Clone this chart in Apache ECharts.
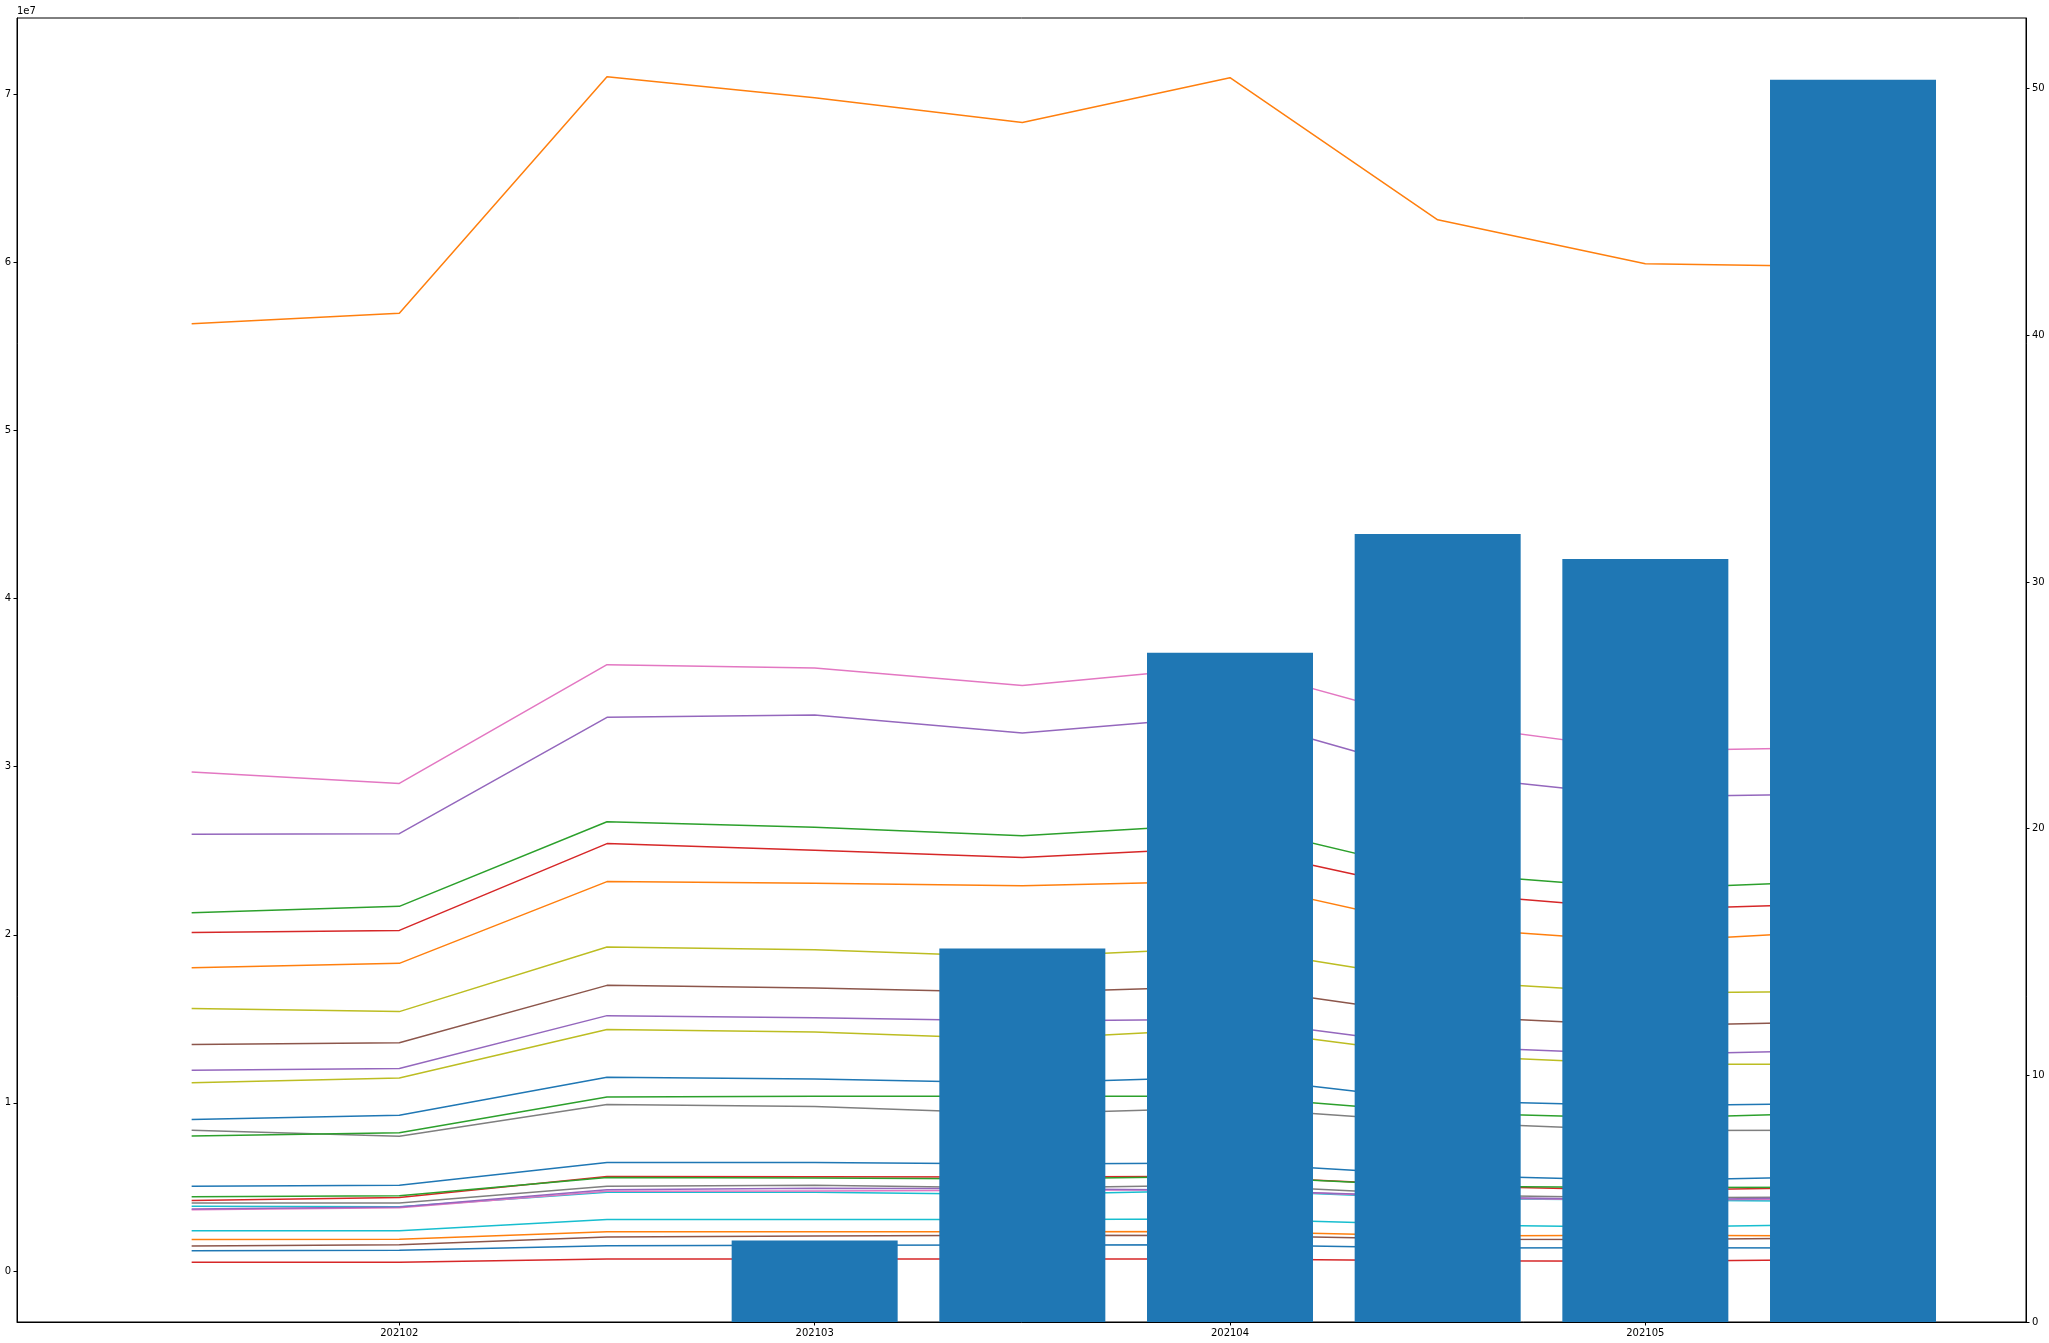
<!DOCTYPE html>
<html><head><meta charset="utf-8">
<script src="https://cdn.jsdelivr.net/npm/echarts@6/dist/echarts.min.js"></script>
<style>html,body{margin:0;padding:0;background:#fff}#c{width:2049px;height:1343px}</style>
</head><body><div id="c"></div>
<script>
// tick labels
const xTickPositions = [1, 3, 5, 7];
const xTickLabels = ['202102', '202103', '202104', '202105'];
const leftTicks = [0, 1e7, 2e7, 3e7, 4e7, 5e7, 6e7, 7e7];
const rightTicks = [0, 10, 20, 30, 40, 50];

// bar series (right axis), one value per period (null = no bar)
const barValues = [null, null, null, 3.30, 15.14, 27.13, 31.94, 30.93, 50.36];

// line series (left axis), 9 periods each
const lineBlue1   = [0.902e7, 0.926e7, 1.152e7, 1.142e7, 1.119e7, 1.156e7, 1.013e7, 0.983e7, 0.998e7];
const lineOrange1 = [5.634e7, 5.696e7, 7.102e7, 6.978e7, 6.830e7, 7.097e7, 6.252e7, 5.991e7, 5.973e7];
const lineGreen1  = [2.131e7, 2.169e7, 2.672e7, 2.639e7, 2.589e7, 2.662e7, 2.368e7, 2.274e7, 2.322e7];
const lineRed1    = [2.014e7, 2.026e7, 2.542e7, 2.502e7, 2.460e7, 2.520e7, 2.251e7, 2.150e7, 2.188e7];
const linePurple1 = [2.597e7, 2.601e7, 3.293e7, 3.307e7, 3.200e7, 3.302e7, 2.952e7, 2.821e7, 2.839e7];
const lineBrown1  = [1.348e7, 1.358e7, 1.699e7, 1.684e7, 1.657e7, 1.694e7, 1.518e7, 1.459e7, 1.484e7];
const linePink1   = [2.968e7, 2.900e7, 3.606e7, 3.586e7, 3.483e7, 3.599e7, 3.259e7, 3.095e7, 3.115e7];
const lineGray1   = [0.837e7, 0.801e7, 0.990e7, 0.978e7, 0.935e7, 0.971e7, 0.885e7, 0.836e7, 0.838e7];
const lineOlive1  = [1.562e7, 1.543e7, 1.927e7, 1.911e7, 1.868e7, 1.924e7, 1.727e7, 1.653e7, 1.664e7];
const lineCyan1   = [0.385e7, 0.383e7, 0.468e7, 0.468e7, 0.455e7, 0.481e7, 0.431e7, 0.422e7, 0.413e7];
const lineBlue2   = [0.504e7, 0.510e7, 0.646e7, 0.646e7, 0.636e7, 0.643e7, 0.570e7, 0.539e7, 0.564e7];
const lineOrange2 = [1.804e7, 1.830e7, 2.316e7, 2.306e7, 2.292e7, 2.319e7, 2.045e7, 1.959e7, 2.027e7];
const lineGreen2  = [0.803e7, 0.823e7, 1.035e7, 1.039e7, 1.039e7, 1.039e7, 0.942e7, 0.909e7, 0.943e7];
const lineRed2    = [0.420e7, 0.438e7, 0.563e7, 0.561e7, 0.560e7, 0.564e7, 0.508e7, 0.481e7, 0.499e7];
const linePurple2 = [1.194e7, 1.205e7, 1.519e7, 1.507e7, 1.487e7, 1.498e7, 1.337e7, 1.288e7, 1.314e7];
const lineBrown2  = [0.149e7, 0.157e7, 0.203e7, 0.209e7, 0.213e7, 0.211e7, 0.189e7, 0.188e7, 0.197e7];
const linePink2   = [0.365e7, 0.377e7, 0.474e7, 0.476e7, 0.481e7, 0.484e7, 0.436e7, 0.422e7, 0.428e7];
const lineGray2   = [0.405e7, 0.405e7, 0.504e7, 0.510e7, 0.494e7, 0.512e7, 0.453e7, 0.436e7, 0.441e7];
const lineOlive2  = [1.120e7, 1.148e7, 1.437e7, 1.422e7, 1.378e7, 1.443e7, 1.284e7, 1.230e7, 1.230e7];
const lineCyan2   = [0.240e7, 0.240e7, 0.306e7, 0.306e7, 0.306e7, 0.310e7, 0.275e7, 0.261e7, 0.279e7];
const lineBlue3   = [0.121e7, 0.123e7, 0.151e7, 0.154e7, 0.155e7, 0.157e7, 0.137e7, 0.138e7, 0.137e7];
const lineOrange3 = [0.187e7, 0.189e7, 0.233e7, 0.233e7, 0.233e7, 0.235e7, 0.209e7, 0.213e7, 0.208e7];
const lineGreen3  = [0.442e7, 0.448e7, 0.557e7, 0.554e7, 0.547e7, 0.564e7, 0.505e7, 0.497e7, 0.499e7];
const lineRed3    = [0.052e7, 0.052e7, 0.072e7, 0.072e7, 0.071e7, 0.071e7, 0.061e7, 0.059e7, 0.068e7];
const linePurple3 = [0.369e7, 0.381e7, 0.484e7, 0.492e7, 0.489e7, 0.481e7, 0.443e7, 0.422e7, 0.439e7];

const palette = ['#1f77b4','#ff7f0e','#2ca02c','#d62728','#9467bd','#8c564b','#e377c2','#7f7f7f','#bcbd22','#17becf'];
const lines = [lineBlue1, lineOrange1, lineGreen1, lineRed1, linePurple1, lineBrown1, linePink1, lineGray1, lineOlive1, lineCyan1,
               lineBlue2, lineOrange2, lineGreen2, lineRed2, linePurple2, lineBrown2, linePink2, lineGray2, lineOlive2, lineCyan2,
               lineBlue3, lineOrange3, lineGreen3, lineRed3, linePurple3];

const FONT = 'DejaVu Sans';
const series = lines.map((arr, k) => ({
  type: 'line',
  yAxisIndex: 0,
  data: arr.map((v, i) => [i, v]),
  showSymbol: false,
  symbol: 'none',
  lineStyle: { color: palette[k % 10], width: 1.5 },
  itemStyle: { color: palette[k % 10] },
  z: 2,
  silent: true
}));
series.push({
  type: 'bar',
  yAxisIndex: 1,
  data: barValues.map((v, i) => [i, v]).filter(d => d[1] !== null),
  barWidth: 166,
  itemStyle: { color: '#1f77b4' },
  z: 5,
  silent: true
});

const axisCommon = {
  axisLine: { show: true, onZero: false, lineStyle: { color: '#000', width: 1 } },
  splitLine: { show: false }
};

const chart = echarts.init(document.getElementById('c'), null, { renderer: 'canvas' });
chart.setOption({
  animation: false,
  backgroundColor: '#fff',
  grid: { left: 17, right: 23, top: 18, bottom: 21, containLabel: false, outerBoundsMode: 'none',
          show: true, borderColor: '#000', borderWidth: 1, backgroundColor: 'transparent' },
  xAxis: Object.assign({
    type: 'value', min: -0.841, max: 8.833,
    axisTick: { show: true, customValues: xTickPositions, length: 3.5, lineStyle: { color: '#000', width: 1 } },
    axisLabel: { customValues: xTickPositions, formatter: v => xTickLabels[xTickPositions.indexOf(v)],
                 color: '#000', fontSize: 10, fontFamily: FONT, margin: 6 }
  }, axisCommon),
  yAxis: [
    Object.assign({
      type: 'value', position: 'left', min: -0.303e7, max: 7.452e7,
      name: '1e7', nameLocation: 'end', nameGap: 2,
      nameTextStyle: { align: 'left', verticalAlign: 'bottom', color: '#000', fontSize: 10, fontFamily: FONT },
      axisTick: { show: true, customValues: leftTicks, length: 3.5, lineStyle: { color: '#000', width: 1 } },
      axisLabel: { customValues: leftTicks, formatter: v => String(Math.round(v / 1e7)),
                   color: '#000', fontSize: 10, fontFamily: FONT, margin: 6 }
    }, axisCommon),
    Object.assign({
      type: 'value', position: 'right', min: 0, max: 52.86,
      axisTick: { show: true, customValues: rightTicks, length: 3.5, lineStyle: { color: '#000', width: 1 } },
      axisLabel: { customValues: rightTicks, formatter: v => String(v),
                   color: '#000', fontSize: 10, fontFamily: FONT, margin: 6 }
    }, axisCommon)
  ],
  series: series
});
</script>
</body></html>
